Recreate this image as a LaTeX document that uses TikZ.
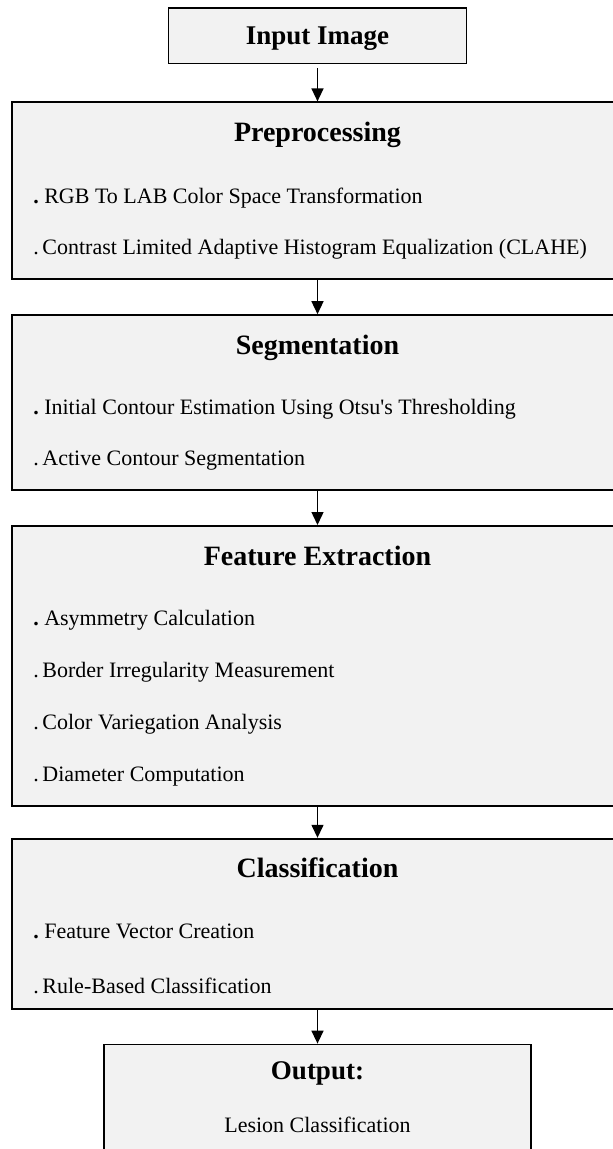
\documentclass[tikz,border=0pt]{standalone}
\usepackage{fontspec}
\setmainfont{Liberation Serif}[Ligatures=TeXOff]
\usetikzlibrary{positioning, arrows.meta}
\definecolor{stagegray}{RGB}{242,242,242}

\begin{document}
\begin{tikzpicture}[x=1pt, y=-1pt, node distance=34pt,
stage/.style={rectangle, draw=black, line width=1.8pt, fill=stagegray,
minimum width=611pt, minimum height=#1, inner sep=0pt},
stage/.default=56pt,
title/.style={font=\bfseries\fontsize{28}{32}\selectfont, anchor=base, inner sep=0pt},
head/.style={font=\bfseries\fontsize{27}{31}\selectfont, anchor=base, inner sep=0pt},
item/.style={font=\fontsize{22}{26}\selectfont, anchor=base west, inner sep=0pt},
arrow/.style={-{Triangle[length=13pt, width=12pt]}, line width=1.4pt}
]
\useasboundingbox (0,0) rectangle (613,1149);

% Input
\node[stage=55.5pt, minimum width=298pt] (input) at (317.5,35.75) {};
\node[head] (inputtxt) at ([shift={(0,37)}]input.north) {Input Image};

% Preprocessing
\node[stage=177pt, below=37pt of input] (prep) {};
\node[title] (preptitle) at ([shift={(0,40)}]prep.north) {Preprocessing};
\node[item] (prep1) at ([shift={(22,102)}]prep.north west)
{\textbf{.}\ RGB To LAB Color Space Transformation};
\node[item] (prep2) at ([shift={(22,153)}]prep.north west)
{.\,Contrast Limited Adaptive Histogram Equalization (CLAHE)};

% Segmentation
\node[stage=175pt, below=of prep] (seg) {};
\node[title] (segtitle) at ([shift={(0,40)}]seg.north) {Segmentation};
\node[item] (seg1) at ([shift={(22,100)}]seg.north west)
{\textbf{.}\ Initial Contour Estimation Using Otsu's Thresholding};
\node[item] (seg2) at ([shift={(22,151)}]seg.north west)
{.\,Active Contour Segmentation};

% Feature Extraction
\node[stage=280pt, below=of seg] (feat) {};
\node[title] (feattitle) at ([shift={(0,40)}]feat.north) {Feature Extraction};
\node[item] (feat1) at ([shift={(22,100)}]feat.north west)
{\textbf{.}\ Asymmetry Calculation};
\node[item] (feat2) at ([shift={(22,152)}]feat.north west)
{.\,Border Irregularity Measurement};
\node[item] (feat3) at ([shift={(22,204)}]feat.north west)
{.\,Color Variegation Analysis};
\node[item] (feat4) at ([shift={(22,256)}]feat.north west)
{.\,Diameter Computation};

% Classification
\node[stage=170pt, below=31pt of feat] (class) {};
\node[title] (classtitle) at ([shift={(0,40)}]class.north) {Classification};
\node[item] (class1) at ([shift={(22,101)}]class.north west)
{\textbf{.}\ Feature Vector Creation};
\node[item] (class2) at ([shift={(22,156)}]class.north west)
{.\,Rule-Based Classification};

% Output
\node[stage=140pt, minimum width=427pt, below=of class] (output) {};
\node[head] (outtitle) at ([shift={(0,36)}]output.north) {Output:};
\node[item, anchor=base] (out1) at ([shift={(0,89)}]output.north)
{Lesion Classification};

% Arrows
\draw[arrow, shorten <=4pt] (input) -- (prep);
\draw[arrow] (prep) -- (seg);
\draw[arrow] (seg) -- (feat);
\draw[arrow] (feat) -- (class);
\draw[arrow] (class) -- (output);

\end{tikzpicture}
\end{document}
